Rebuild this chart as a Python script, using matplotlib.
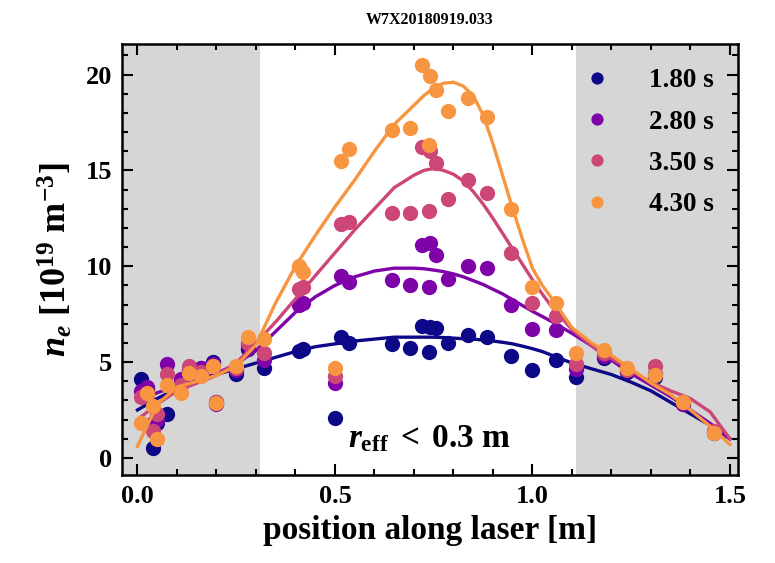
import numpy as np
import matplotlib
matplotlib.use("Agg")
import matplotlib.pyplot as plt

#########################
  # DATA
#########################

shot = "W7X20180919.033"
times = ["1.80 s", "2.80 s", "3.50 s", "4.30 s"]
colors = ["#0d0887", "#7e03a8", "#cc4778", "#f89540"]

# laser channel positions [m]
pos = [0.01, 0.025, 0.04, 0.05, 0.075, 0.11, 0.13, 0.16, 0.19, 0.20, 0.25, 0.28, 0.32,
       0.41, 0.42, 0.50, 0.515, 0.535, 0.645, 0.69, 0.72, 0.737, 0.74, 0.755, 0.785,
       0.836, 0.886, 0.945, 1.00, 1.06, 1.11, 1.18, 1.24, 1.31, 1.38, 1.46]

# measured density [1e19 m^-3]
ne_180 = [4.1, 3.6, 0.5, 1.8, 2.3, 4.0, 4.3, 4.7, 5.0, 2.9, 4.4, 5.7, 4.7,
          5.6, 5.7, 2.1, 6.3, 6.0, 5.95, 5.75, 6.9, 5.55, 6.85, 6.8, 6.0,
          6.4, 6.3, 5.3, 4.6, 5.1, 4.2, 5.2, 4.5, 4.2, 2.8, 1.3]
ne_280 = [3.5, 3.7, 1.8, 2.0, 4.9, 4.1, 4.6, 4.7, 4.9, 2.8, 4.6, 5.9, 5.1,
          8.0, 8.1, 3.9, 9.5, 9.2, 9.3, 9.0, 11.1, 8.9, 11.2, 10.6, 9.35,
          10.0, 9.9, 8.0, 6.75, 6.7, 4.65, 5.3, 4.6, 4.4, 2.8, 1.35]
ne_350 = [3.2, 3.3, 1.4, 2.3, 4.4, 3.8, 4.8, 4.5, 4.8, 2.9, 4.7, 6.0, 5.5,
          8.8, 8.9, 4.3, 12.2, 12.3, 12.8, 12.8, 16.2, 12.9, 16.0, 15.4, 13.5,
          14.5, 13.8, 10.7, 8.1, 7.4, 4.9, 5.5, 4.6, 4.8, 2.9, 1.4]
ne_430 = [1.8, 3.4, 2.7, 1.0, 3.8, 3.4, 4.45, 4.3, 4.8, 2.85, 4.8, 6.3, 6.2,
          10.0, 9.7, 4.7, 15.5, 16.1, 17.1, 17.2, 20.5, 16.3, 19.9, 19.2, 18.1,
          18.8, 17.8, 13.0, 8.9, 8.1, 5.5, 5.65, 4.7, 4.35, 2.93, 1.3]

# fitted profiles
fit_x = [0.0, 0.05, 0.1, 0.15, 0.2, 0.25, 0.3, 0.35, 0.4, 0.45, 0.5, 0.55, 0.6,
         0.65, 0.7, 0.725, 0.75, 0.775, 0.8, 0.825, 0.85, 0.875, 0.9, 0.925, 0.95,
         0.975, 1.0, 1.025, 1.05, 1.1, 1.15, 1.2, 1.25, 1.3, 1.35, 1.4, 1.45, 1.5]
fit_180 = [2.5, 3.1, 3.6, 4.0, 4.35, 4.65, 4.95, 5.25, 5.55, 5.8, 5.95, 6.1, 6.2,
           6.3, 6.3, 6.3, 6.3, 6.28, 6.25, 6.22, 6.2, 6.15, 6.1, 6.03, 5.95,
           5.83, 5.7, 5.55, 5.35, 4.95, 4.65, 4.35, 3.95, 3.5, 2.9, 2.3, 1.7, 1.0]
fit_280 = [3.0, 3.4, 3.75, 4.05, 4.4, 4.9, 5.6, 6.6, 7.6, 8.4, 9.0, 9.45, 9.75,
           9.9, 9.9, 9.87, 9.8, 9.72, 9.6, 9.45, 9.25, 9.05, 8.8, 8.55, 8.25,
           7.95, 7.65, 7.38, 7.1, 6.5, 5.85, 5.1, 4.4, 3.8, 3.2, 2.5, 1.8, 1.0]
fit_350 = [2.0, 2.8, 3.5, 3.9, 4.3, 4.95, 6.0, 7.1, 8.3, 9.5, 10.7, 11.9, 13.0,
           14.1, 14.75, 15.0, 15.1, 15.0, 14.8, 14.45, 13.9, 13.25, 12.5, 11.7, 10.9,
           10.1, 9.3, 8.55, 7.85, 6.7, 5.85, 5.2, 4.55, 3.95, 3.5, 3.1, 2.4, 1.0]
fit_430 = [0.6, 2.8, 3.7, 4.0, 4.3, 4.8, 5.9, 8.1, 10.0, 11.6, 13.1, 14.5, 16.0,
           17.4, 18.4, 18.9, 19.3, 19.55, 19.6, 19.4, 18.9, 17.9, 16.4, 14.7, 13.0,
           11.4, 9.9, 9.0, 8.3, 6.8, 6.0, 5.35, 4.65, 3.9, 3.3, 2.5, 1.65, 0.7]

# region outside r_eff < 0.3 m
core = [0.31, 1.11]

#########################
  # PLOT
#########################

plt.rcParams['font.family'] = ['Liberation Serif', 'DejaVu Serif']
plt.rcParams['font.weight'] = 'bold'
plt.rcParams['mathtext.fontset'] = 'custom'
plt.rcParams['mathtext.rm'] = 'Liberation Serif:bold'
plt.rcParams['mathtext.bf'] = 'Liberation Serif:bold'
plt.rcParams['mathtext.it'] = 'Liberation Serif:italic:bold'

fig = plt.figure(figsize=(7.75, 5.63), dpi=100)
ax = fig.add_axes([0.157, 0.156, 0.795, 0.766])

xlim = (-0.04, 1.52)
ax.axvspan(xlim[0], core[0], color="#d6d6d6", lw=0, zorder=0)
ax.axvspan(core[1], xlim[1], color="#d6d6d6", lw=0, zorder=0)

series = [ne_180, ne_280, ne_350, ne_430]
fits = [fit_180, fit_280, fit_350, fit_430]
for ne, fit, c, t in zip(series, fits, colors, times):
	ax.plot(pos, ne, "o", color=c, ms=11, mec="none", label=t, zorder=3)
	ax.plot(fit_x, fit, "-", color=c, lw=2.4, zorder=3, solid_joinstyle="round")

ax.set_xlim(*xlim)
ax.set_ylim(-0.9, 21.6)
ax.set_xticks([0.0, 0.5, 1.0, 1.5])
ax.set_yticks([0, 5, 10, 15, 20])
ax.set_xticks(np.arange(0, 1.51, 0.1), minor=True)
ax.set_yticks(np.arange(0, 22, 1), minor=True)
ax.tick_params(which="both", direction="in", top=True, right=True, width=1.5, labelsize=19)
ax.tick_params(which="major", length=8, pad=7)
ax.tick_params(which="minor", length=4)
for s in ax.spines.values():
	s.set_linewidth(1.8)

ax.set_xlabel("position along laser [m]", fontsize=24, fontweight="bold", labelpad=5)
ax.set_ylabel("$n_e$ [$10^{19}$ m$^{-3}$]", fontsize=26, fontweight="bold", labelpad=8)
ax.set_title(shot, fontsize=11.5, fontweight="bold", pad=14)

ax.text(0.74, 1.0, r"$r_{\rm eff}\;<\;0.3$ m", fontsize=24, fontweight="bold",
	ha="center", va="center")

leg = ax.legend(loc="upper right", frameon=False, fontsize=19.5, handletextpad=0.9,
	labelspacing=0.6, borderaxespad=0.5, markerscale=0.8)

fig.savefig("out.png", dpi=100)
